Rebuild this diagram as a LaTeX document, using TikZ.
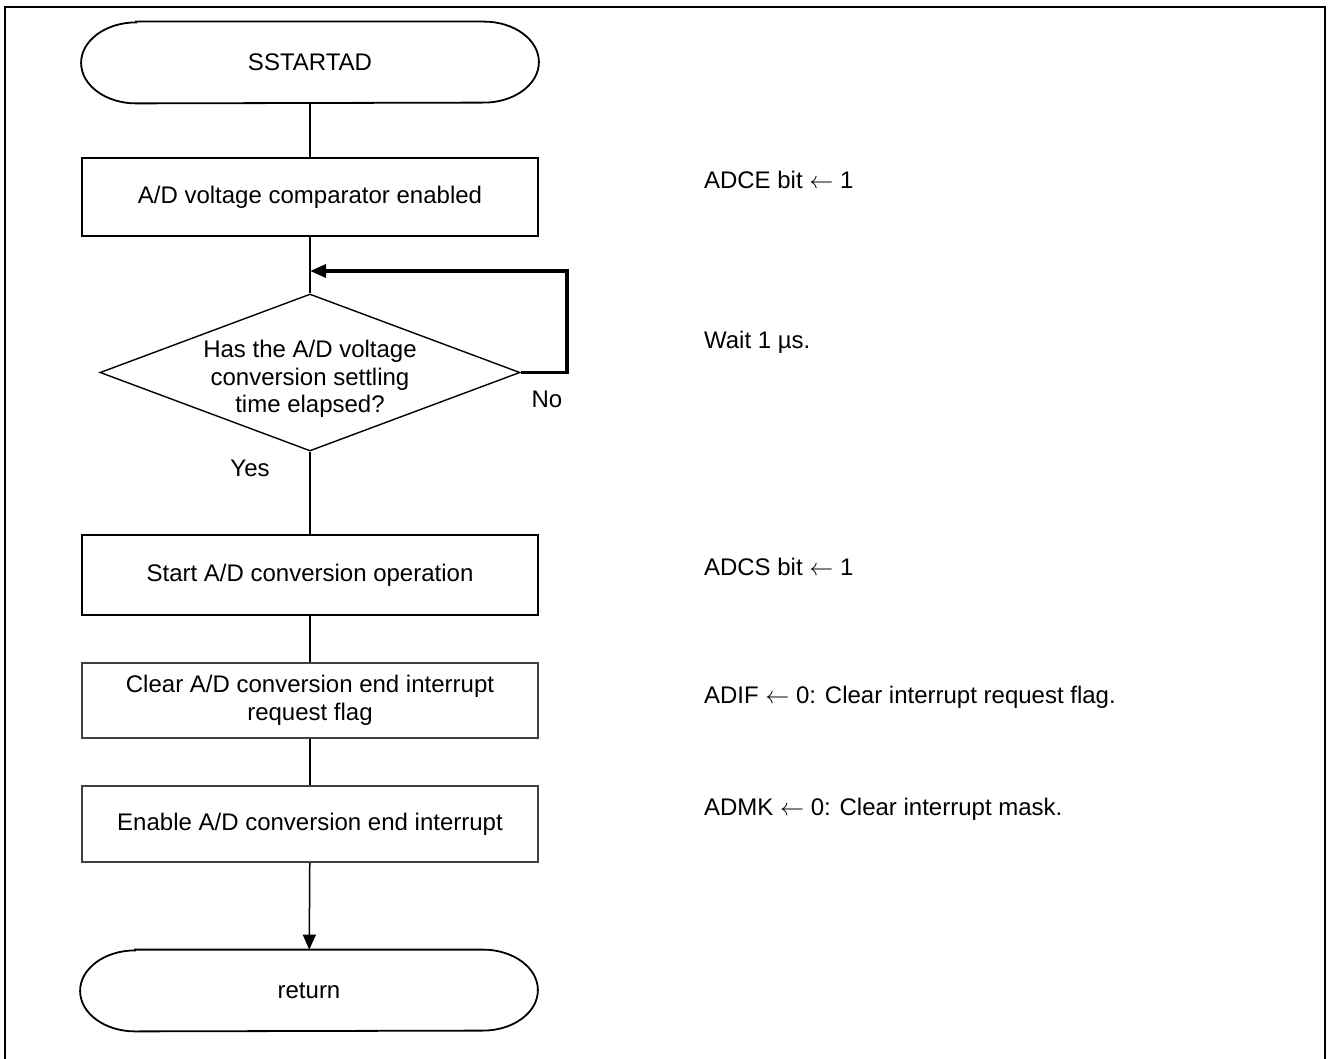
\documentclass[tikz,border=0pt]{standalone}
\usepackage{fontspec}
\setmainfont{Liberation Sans}
\usepackage{tikz}
\usetikzlibrary{shapes.geometric,arrows.meta}
\pgfdeclarelayer{bg}
\pgfsetlayers{bg,main}
\tikzset{
  every node/.style={font=\fontsize{12pt}{13.8pt}\selectfont, align=center},
  term/.style={minimum width=228.5pt, minimum height=40.5pt, inner sep=0pt,
    append after command={\pgfextra{\draw[line width=0.9pt]
      ([xshift=27.5pt]\tikzlastnode.north west) -- ([xshift=-27.5pt]\tikzlastnode.north east)
      arc[start angle=90, end angle=-90, x radius=27.5pt, y radius=20.25pt]
      -- ([xshift=27.5pt]\tikzlastnode.south west)
      arc[start angle=270, end angle=90, x radius=27.5pt, y radius=20.25pt] -- cycle;}}},
  proc/.style={rectangle, draw, line width=0.9pt, minimum width=228pt, minimum height=39pt},
  procthin/.style={rectangle, draw=black!75, line width=0.6pt, minimum width=228pt, minimum height=38pt},
  dec/.style={diamond, draw, line width=0.7pt, aspect=2.675, minimum width=210pt, minimum height=78.5pt, inner sep=-10pt},
  note/.style={anchor=base west, align=left},
  flow/.style={line width=0.75pt},
  back/.style={line width=1.7pt, -{Triangle[length=8pt,width=6.5pt]}},
  down/.style={line width=0.75pt, -{Triangle[length=7.5pt,width=6.5pt]}}
}
\begin{document}
\begin{tikzpicture}[x=0.5pt, y=-0.5pt]
        \useasboundingbox (0,0) rectangle (1328,1059);
        \draw [line width=1.35pt] (5,7) rectangle (1325,1075);
        \node (f0) [term] at (310, 62.5) {SSTARTAD};
        \node (f1) [proc] at (310, 197) {A/D voltage comparator enabled};
        \node (f2) [dec] at (310, 372.5) {\rule{0pt}{15pt}Has the A/D voltage\\conversion settling\\time elapsed?};
        \node (f3) [proc, minimum height=40pt] at (310, 575) {Start A/D conversion operation};
        \node (f4) [procthin, minimum height=37.5pt] at (310, 700.5) {Clear A/D conversion end interrupt\\request flag};
        \node (f5) [procthin] at (310, 824) {Enable A/D conversion end interrupt};
        \node (f6) [term] at (309, 990.5) {return};
        \node (l0) at (547, 399) {No};
        \node (l1) at (250, 468) {Yes};
        \coordinate (t0) at (567, 271);
        \coordinate (t1) at (310, 271);
        \node (c0) [note] at (697, 189) {ADCE bit $\leftarrow$ 1};
        \node (c1) [note] at (697, 349) {Wait 1 µs.};
        \node (c2) [note] at (697, 575) {ADCS bit $\leftarrow$ 1};
        \node (c3) [note] at (697, 703) {ADIF $\leftarrow$ 0: Clear interrupt request flag.};
        \node (c4) [note] at (697, 815) {ADMK $\leftarrow$ 0: Clear interrupt mask.};
        \begin{pgfonlayer}{bg}
                \draw (f0) edge [flow] (f1);
                \draw (f1) edge [flow] (f2);
                \draw (f2) edge [flow] (f3);
                \draw (f3) edge [flow] (f4);
                \draw (f4) edge [flow] (f5);
                \draw (f5) edge [down] (f6);
                \draw [back] (f2.east) -| (t0) -- (t1);
        \end{pgfonlayer}
\end{tikzpicture}
\end{document}
